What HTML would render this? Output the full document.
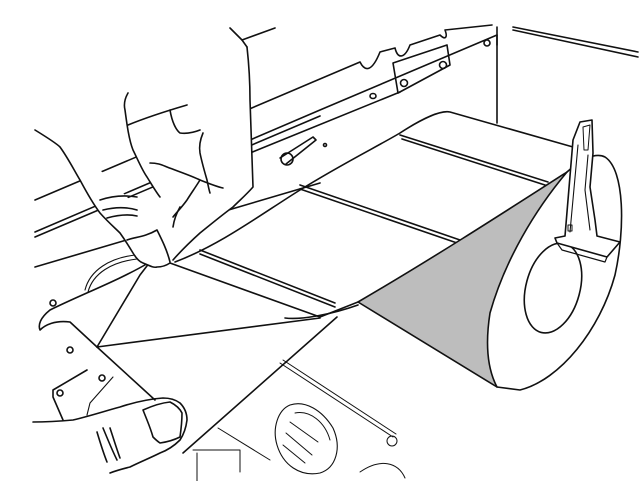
<!DOCTYPE html>
<html><head><meta charset="utf-8"><style>
html,body{margin:0;padding:0;background:#fff;}
svg{display:block;}
</style></head><body>
<svg width="644" height="481" viewBox="0 0 644 481" xmlns="http://www.w3.org/2000/svg" fill="none" stroke="#111" stroke-width="1.6" stroke-linejoin="round" stroke-linecap="round">
<!-- top right box -->
<line x1="497" y1="27" x2="497" y2="123"/>
<line x1="513" y1="27" x2="638" y2="52"/>
<line x1="513" y1="30" x2="638" y2="57"/>
<!-- rails -->
<path d="M35 200 L360 62 C365 72 372 72 380 52 L395 48 C398 60 405 58 410 45 L440 35 C445 40 448 38 445 30 L492 25"/>
<path d="M35 232 L320 110 L497 35"/>
<path d="M35 237 L320 116"/>
<path d="M250 153 L400 92"/>
<path d="M35 267 L320 183"/>
<line x1="497" y1="35" x2="497" y2="45"/>
<!-- hinge -->
<path d="M393 63 L447 45 L450 65 L398 93 Z"/>
<circle cx="404" cy="83" r="3.5"/><circle cx="443" cy="65" r="3.5"/><circle cx="487" cy="43" r="3"/>
<ellipse cx="373" cy="96" rx="3" ry="2.5"/>
<!-- pin -->
<path d="M280 158 L313 137 L316 140 L286 164"/>
<circle cx="287" cy="159" r="6"/><circle cx="325" cy="145" r="1.5"/>
<!-- roller arc left -->
<path d="M85 290 C90 270 110 258 135 255" stroke-width="1.1"/>
<path d="M88 292 C93 273 112 262 137 259" stroke-width="1.1"/>
<!-- paper web top -->
<path d="M175 262 C220 245 260 215 300 190 C340 165 380 145 400 133 C420 120 440 110 450 112 L573 147"/>
<line x1="400" y1="135" x2="548" y2="182"/><line x1="402" y1="139" x2="548" y2="186"/>
<line x1="300" y1="185" x2="460" y2="240"/><line x1="300" y1="189" x2="460" y2="244"/>
<line x1="200" y1="250" x2="335" y2="303"/><line x1="200" y1="254" x2="335" y2="307"/>
<!-- gray wedge -->
<path d="M358 302 C430 260 500 215 567 172 C535 210 505 260 490 313 C485 345 488 370 497 387 L358 302 Z" fill="#bdbdbd"/>
<!-- roll outer -->
<path d="M567 172 C580 160 595 152 605 157 C625 170 625 230 615 275 C600 330 560 380 520 390 L497 387"/>
<ellipse cx="553" cy="288" rx="27" ry="46" transform="rotate(15 553 288)"/>
<!-- holder -->
<path d="M580 122 L592 120 L593 153 L590 187 L595 220 L597 236 L620 242 L607 257 L557 243 L555 238 L565 236 L573 140 Z" fill="#fff"/>
<path d="M583 127 L590 125 L588 150 L584 150 Z" stroke-width="1"/>
<path d="M578 145 L570 232 M588 155 L585 190 L590 230" stroke-width="1.1"/>
<rect x="568" y="225" width="4" height="6" stroke-width="1"/>
<path d="M557 243 L562 250 L605 262 L607 257" stroke-width="1.2"/>
<!-- web left part -->
<path d="M170 263 L320 317 L358 302"/>
<path d="M97 347 L320 318"/>
<path d="M97 347 L140 275 L150 262"/>
<path d="M97 347 L155 400"/>
<path d="M337 317 L183 453"/>
<path d="M358 305 C330 315 300 320 285 318"/>
<!-- paper curl left -->
<path d="M150 262 C120 280 80 295 50 310 C40 318 38 325 40 330 C45 325 55 320 70 322 L97 347"/>
<circle cx="53" cy="303" r="3"/><circle cx="70" cy="350" r="3"/>
<!-- bracket plate -->
<path d="M87 370 L53 390 L53 397 L63 420"/>
<path d="M113 377 L90 403 L87 415" stroke-width="1.1"/>
<circle cx="102" cy="378" r="3"/><circle cx="60" cy="393" r="3"/>
<!-- upper hand -->
<path d="M35 130 L60 147 L80 180 L100 213 L120 233 L133 253 L143 263 L157 267 L170 263 L173 260 L200 233 L233 207 L253 187 L250 100 L247 47 L240 38 L128 93 L125 110 L133 150 L147 177 L160 197 L167 213 L145 215 L120 190 L90 160 Z" stroke="none" fill="#fff"/>
<path d="M35 130 C48 138 56 143 60 147 C68 158 74 170 80 180 C88 195 94 205 100 213 C108 222 115 228 120 233 C125 240 130 248 133 253 C136 258 140 262 143 263 C150 266 154 268 157 267 C163 267 167 265 170 263"/>
<path d="M128 93 C124 100 124 106 125 110 C127 125 129 140 133 150 C138 160 142 170 147 177 C152 185 156 192 160 197"/>
<path d="M247 47 C249 65 250 85 250 100 C251 130 252 160 253 187 C246 195 240 200 233 207 C222 215 210 225 200 233 C190 242 180 252 173 260"/>
<path d="M230 28 L242 40 L275 28"/><path d="M242 40 L247 47"/>
<path d="M128 125 C145 118 170 110 187 105"/>
<path d="M170 110 C172 122 176 130 180 133 C188 134 195 132 200 130"/>
<path d="M150 163 C158 163 162 165 167 167 C180 172 192 176 200 180 C210 184 218 187 223 188"/>
<path d="M203 133 C200 140 199 147 200 153 C202 163 205 173 207 180 C208 185 209 190 210 193"/>
<path d="M200 180 C195 188 190 195 187 200 C182 207 177 212 173 217"/>
<path d="M180 207 C176 214 174 220 173 227"/>
<path d="M100 200 C112 196 125 195 137 197"/><path d="M103 210 C115 207 127 207 137 210"/><path d="M107 218 C118 215 128 214 137 216"/>
<path d="M127 240 C135 237 145 237 157 230 C162 240 167 250 170 262"/>
<!-- lower hand -->
<path d="M33 422 C50 422 62 421 73 420 C90 416 105 411 120 407 C135 402 150 399 163 398 C170 398 176 400 180 403 C185 408 187 414 187 420 C186 428 184 434 180 440 C174 446 168 450 160 453 C150 458 140 462 130 467 C122 469 115 471 110 473"/>
<path d="M143 410 C152 406 160 403 170 402 C176 405 180 409 182 413 C182 420 181 430 180 437 C174 440 167 442 160 443 C157 441 155 439 153 437 C151 430 149 425 147 420 Z"/>
<path d="M103 428 C108 440 112 450 117 460"/><path d="M110 428 C114 440 117 450 120 458"/><path d="M97 432 C100 442 103 452 107 462"/>
<!-- gear area -->
<path d="M280 363 L393 437" stroke-width="1"/><path d="M283 360 L396 434" stroke-width="1"/>
<path d="M218 428 L270 460" stroke-width="1"/>
<path d="M193 450 L240 450 L240 472 M197 453 L197 481" stroke-width="1"/>
<path d="M290 405 C305 400 322 410 333 428 C342 448 336 468 320 473 C300 477 283 465 277 445 C272 428 278 410 290 405 Z" stroke-width="1.1"/>
<path d="M295 413 C310 410 325 422 330 440" stroke-width="1"/>
<path d="M290 422 L318 442 M286 433 L312 455 M283 445 L305 463" stroke-width="1"/>
<circle cx="392" cy="441" r="5" stroke-width="1"/>
<path d="M360 472 C380 458 398 462 405 478" stroke-width="1"/>
</svg>
</body></html>
